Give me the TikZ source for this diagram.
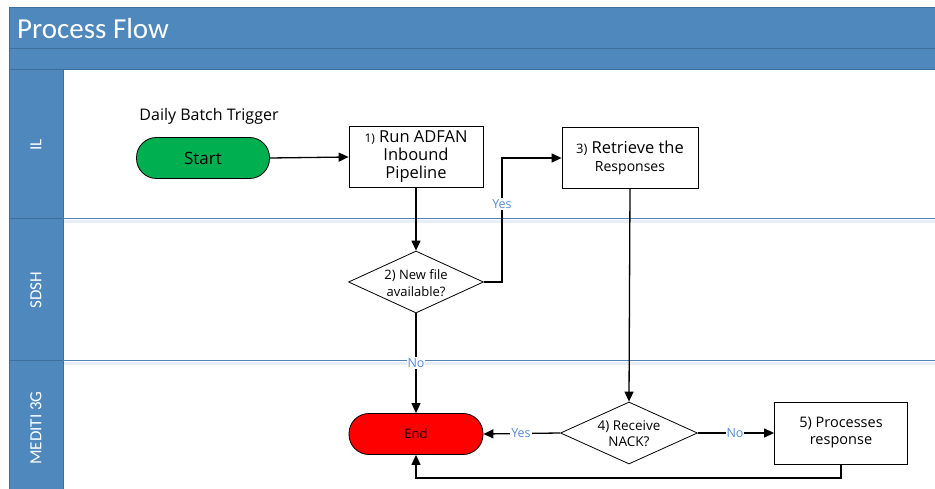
\documentclass[tikz,border=0pt]{standalone}
\usepackage{fontspec}
\setmainfont{Open Sans}
\newfontfamily\headfont{Carlito}
\usetikzlibrary{shapes.geometric,arrows.meta}

\definecolor{laneblue}{RGB}{79,136,188}
\definecolor{laneedge}{RGB}{62,110,155}
\definecolor{sepblue}{RGB}{84,130,180}
\definecolor{sepshade}{RGB}{232,238,246}
\definecolor{startgreen}{RGB}{0,176,80}
\definecolor{endred}{RGB}{255,0,0}
\definecolor{tagblue}{RGB}{84,141,212}

\begin{document}
\begin{tikzpicture}[x=1pt,y=-1pt,
  flow/.style={draw=black,line width=1.3pt,-{Triangle[length=10pt,width=9pt]}},
  procbox/.style={draw=black,line width=0.8pt,fill=white,minimum width=134pt,minimum height=61pt,inner sep=0pt,align=center},
  pill/.style={draw=black,line width=0.8pt,rounded corners=20pt,minimum height=41pt,inner sep=0pt,align=center},
  decision/.style={diamond,draw=black,line width=0.8pt,fill=white,minimum width=135pt,minimum height=62pt,inner sep=0pt},
  decisiontext/.style={inner sep=0pt,align=center},
  tag/.style={fill=white,inner sep=1pt,text=tagblue,font=\fontsize{12.5}{14}\selectfont},
  lanetitle/.style={rotate=90,text=white,font=\headfont\fontsize{17}{20}\selectfont}
]
\useasboundingbox (0,0) rectangle (935,489);
\fill[white] (0,0) rectangle (935,489);

% pool header and lane column
\fill[laneblue] (9,8) rectangle (935,70);
\fill[laneblue] (9,70) rectangle (63,489);
\draw[laneedge,line width=1pt] (9,489) -- (9,8) -- (935,8);
\draw[laneedge,line width=1pt] (9,49) -- (935,49);
\draw[laneedge,line width=1pt] (9,70) -- (935,70);
\draw[laneedge,line width=1pt] (63,70) -- (63,489);
\node[anchor=west,text=white,font=\headfont\fontsize{29}{32}\selectfont,inner sep=0pt] (title) at (17,29) {Process Flow};

% lane separators with a soft shade below
\draw[sepshade,line width=3pt] (64,222) -- (935,222);
\draw[sepshade,line width=3pt] (64,363) -- (935,363);
\draw[laneedge,line width=1pt] (9,219) -- (63,219);
\draw[laneedge,line width=1pt] (9,360) -- (63,360);
\draw[sepblue,line width=1pt] (63,219) -- (935,219);
\draw[sepblue,line width=1pt] (63,360) -- (935,360);

% lane names
\node[lanetitle] (laneIL) at (36,145) {IL};
\node[lanetitle] (laneSDSH) at (36,290) {SDSH};
\node[lanetitle] (laneMED) at (36,428) {MEDITI 3G};

% flow nodes
\node[font=\fontsize{16}{18}\selectfont] (trigger) at (209,116) {Daily Batch Trigger};
\node[pill,fill=startgreen,minimum width=133pt,font=\fontsize{17}{18}\selectfont] (start) at (203,158) {Start};
\node[procbox,font=\fontsize{16.5}{18}\selectfont] (run) at (416,157) {{\fontsize{12}{18}\selectfont 1)} Run ADFAN\\Inbound\\Pipeline};
\node[procbox,minimum width=136pt,font=\fontsize{16.5}{18}\selectfont] (retrieve) at (630,158) {{\fontsize{13}{18}\selectfont 3)} Retrieve the\\{\fontsize{14}{18}\selectfont Responses}};
\node[decision] (newfile) at (416,282) {};
\node[decisiontext,font=\fontsize{13}{17}\selectfont] (newfiletext) at (416,283) {2) New file\\available?};
\node[pill,fill=endred,minimum width=134pt,font=\fontsize{13}{14}\selectfont] (finish) at (416,434) {End};
\node[decision,minimum width=137pt] (nack) at (629,433) {};
\node[decisiontext,font=\fontsize{13.5}{16}\selectfont] (nacktext) at (629,434) {4) Receive\\NACK?};
\node[procbox,minimum width=133pt,minimum height=62pt,font=\fontsize{14.5}{17}\selectfont] (process) at (841,433) {5) Processes\\response};

% connectors
\coordinate (yesbend) at (502,282);
\coordinate (loopright) at (841,478);
\coordinate (loopleft) at (416,478);
\draw[flow] (start.east) -- (run.west);
\draw[flow] (run.south) -- (newfile.north);
\draw[flow] (newfile.east) -- (yesbend) |- (retrieve.west);
\draw[flow] (retrieve.south) -- (nack.north);
\draw[flow] (newfile.south) -- (finish.north);
\draw[flow] (nack.west) -- (finish.east);
\draw[flow] (nack.east) -- (process.west);
\draw[flow] (process.south) -- (loopright) -- (loopleft) -- (finish.south);

% branch labels
\node[tag] (yesup) at (502,204) {Yes};
\node[tag] (nodown) at (416,363) {No};
\node[tag] (yesleft) at (521,433) {Yes};
\node[tag] (noright) at (735,433) {No};
\end{tikzpicture}
\end{document}
